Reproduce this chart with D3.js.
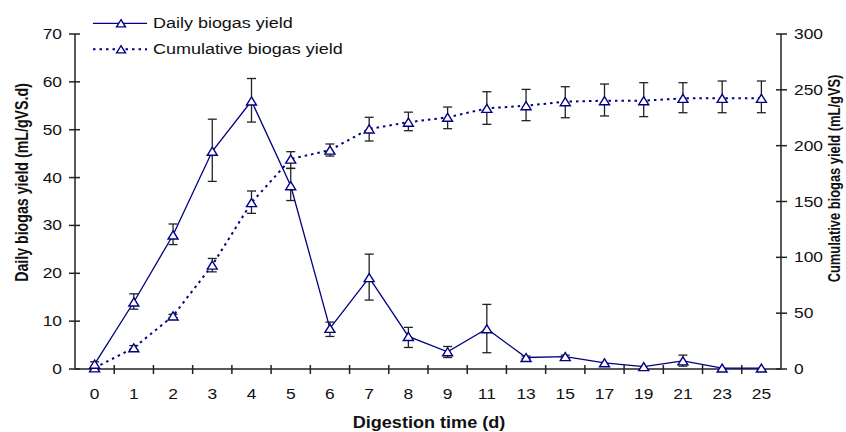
<!DOCTYPE html>
<html>
<head>
<meta charset="utf-8">
<script src="https://cdn.jsdelivr.net/npm/d3@7"></script>
<style>
  body { margin: 0; background: #fff; }
  svg { display: block; font-family: "Liberation Sans", Arial, sans-serif; }
</style>
</head>
<body>
<script>
var width = 846,
    height = 432;

// digestion days (categorical axis)
const days = ["0", "1", "2", "3", "4", "5", "6", "7", "8", "9", "11", "13", "15", "17", "19", "21", "23", "25"];

// daily biogas yield (mL/gVS.d) with error bar lows/highs
const daily = [1, 14, 28, 45.5, 56, 38.3, 8.5, 19.1, 6.8, 3.6, 8.4, 2.4, 2.6, 1.3, 0.5, 1.7, 0.2, 0.2];
const dailyLow = [0.5, 12.5, 26, 39.2, 51.6, 35.2, 6.8, 14.4, 4.5, 2.4, 3.4, 2.1, 2.3, 1.1, 0.3, 0.6, 0.1, 0.1];
const dailyHigh = [1.5, 15.7, 30.3, 52.2, 60.7, 41.9, 9.8, 24, 8.7, 4.7, 13.5, 2.7, 2.9, 1.5, 0.7, 2.9, 0.3, 0.3];

// cumulative biogas yield (mL/gVS) with error bar lows/highs
const cumulative = [1, 19, 47.5, 93, 149, 188, 196, 215, 221, 225.4, 233.4, 235.8, 239.4, 240.3, 240.3, 242.4, 242.4, 242.4];
const cumLow = [0, 17, 46, 87, 139.4, 179.7, 190.7, 204.2, 213.4, 215.2, 219.1, 222.4, 225, 226.6, 226, 229.5, 229.5, 229.5];
const cumHigh = [2, 21, 49, 99, 159.4, 194.6, 201.5, 225.4, 230, 234.6, 248.3, 250.4, 252.8, 255.2, 256.4, 256.4, 257.9, 257.9];

const leftTicks = [0, 10, 20, 30, 40, 50, 60, 70];
const rightTicks = [0, 50, 100, 150, 200, 250, 300];

const margin = { left: 75, right: 65, top: 34, bottom: 63 };
const navy = "#000080";
const ink = "#222";
const stretch = 1.2; // the original picture is a bit wider than tall

const svg = d3.select("body").append("svg")
    .attr("width", width)
    .attr("height", height);

const x = d3.scaleBand()
    .domain(days)
    .range([margin.left, width - margin.right]);

const yL = d3.scaleLinear().domain([0, 70]).range([height - margin.bottom, margin.top]);
const yR = d3.scaleLinear().domain([0, 300]).range([height - margin.bottom, margin.top]);

const cx = (d) => x(d) + x.bandwidth() / 2;

// text helper: horizontally stretched label
const label = (sel, px, py, txt, opts) => {
    opts = opts || {};
    return sel.append("text")
        .attr("transform", "translate(" + px + "," + py + ") scale(" + (opts.sx || stretch) + ",1)" + (opts.rot ? " rotate(" + opts.rot + ")" : ""))
        .attr("text-anchor", opts.anchor || "middle")
        .attr("font-size", opts.size || 14.5)
        .attr("font-weight", opts.bold ? "bold" : null)
        .attr("fill", "#111")
        .text(txt);
};

// axes
const axisG = svg.append("g").attr("class", "axes");

// x axis line + cross ticks at band edges
const x0 = margin.left, x1 = width - margin.right, yBase = yL(0);
axisG.append("line").attr("x1", x0).attr("x2", x1).attr("y1", yBase).attr("y2", yBase)
    .attr("stroke", ink).attr("stroke-width", 1.5);
axisG.selectAll(".xtick")
    .data(days.slice(1))
    .enter().append("line")
    .attr("x1", d => x(d)).attr("x2", d => x(d))
    .attr("y1", yBase - 4).attr("y2", yBase + 5)
    .attr("stroke", ink).attr("stroke-width", 1.5);
days.forEach(d => label(axisG, cx(d), yBase + 30, d));

// left axis
axisG.append("line").attr("x1", x0).attr("x2", x0).attr("y1", yL(0)).attr("y2", yL(70))
    .attr("stroke", ink).attr("stroke-width", 1.5);
axisG.selectAll(".ltick")
    .data(leftTicks)
    .enter().append("line")
    .attr("x1", x0 - 6).attr("x2", x0 + 5)
    .attr("y1", d => yL(d)).attr("y2", d => yL(d))
    .attr("stroke", ink).attr("stroke-width", 1.5);
leftTicks.forEach(d => label(axisG, x0 - 13, yL(d) + 5, d, { anchor: "end" }));

// right axis
axisG.append("line").attr("x1", x1).attr("x2", x1).attr("y1", yR(0)).attr("y2", yR(300))
    .attr("stroke", ink).attr("stroke-width", 1.5);
axisG.selectAll(".rtick")
    .data(rightTicks)
    .enter().append("line")
    .attr("x1", x1 - 5).attr("x2", x1 + 6)
    .attr("y1", d => yR(d)).attr("y2", d => yR(d))
    .attr("stroke", ink).attr("stroke-width", 1.5);
rightTicks.forEach(d => label(axisG, x1 + 13, yR(d) + 5, d, { anchor: "start" }));

// axis titles
label(svg, (x0 + x1) / 2 + 1, 428, "Digestion time (d)", { size: 16, bold: true, sx: 1.13 });
label(svg, 28, 182.5, "Daily biogas yield (mL/gVS.d)", { size: 14.2, bold: true, sx: 1.25, rot: -90 });
label(svg, 839.5, 178.5, "Cumulative biogas yield (mL/gVS)", { size: 12.9, bold: true, sx: 1.25, rot: -90 });

// lines
const lineDaily = d3.line().x((d, i) => cx(days[i])).y(d => yL(d));
const lineCum = d3.line().x((d, i) => cx(days[i])).y(d => yR(d));

svg.append("path").datum(cumulative)
    .attr("d", lineCum)
    .attr("fill", "none")
    .attr("stroke", navy)
    .attr("stroke-width", 2)
    .attr("stroke-dasharray", "2.5,4");

svg.append("path").datum(daily)
    .attr("d", lineDaily)
    .attr("fill", "none")
    .attr("stroke", navy)
    .attr("stroke-width", 1.3);

// error bars
const drawErrors = (lo, hi, y, cls) => {
    const g = svg.append("g").attr("class", cls);
    days.forEach(function (d, i) {
        const px = cx(d);
        if (Math.abs(y(hi[i]) - y(lo[i])) < 2) return;
        g.append("line").attr("x1", px).attr("x2", px)
            .attr("y1", y(lo[i])).attr("y2", y(hi[i]))
            .attr("stroke", ink).attr("stroke-width", 1.3);
        [lo[i], hi[i]].forEach(function (v) {
            g.append("line").attr("x1", px - 4.5).attr("x2", px + 4.5)
                .attr("y1", y(v)).attr("y2", y(v))
                .attr("stroke", ink).attr("stroke-width", 1.3);
        });
    });
};
drawErrors(cumLow, cumHigh, yR, "err-cum");
drawErrors(dailyLow, dailyHigh, yL, "err-daily");

// markers: open triangle, a little wider than tall
const triShape = {
    draw: function (context, size) {
        const w = Math.sqrt(size) * 0.72, h = Math.sqrt(size) * 0.58;
        context.moveTo(0, -h);
        context.lineTo(w, h);
        context.lineTo(-w, h);
        context.closePath();
    }
};
const tri = d3.symbol().type(triShape).size(48);
const triSmall = d3.symbol().type(triShape).size(38);

svg.append("g").selectAll("path")
    .data(cumulative)
    .enter().append("path")
    .attr("d", tri)
    .attr("transform", (d, i) => "translate(" + cx(days[i]) + "," + yR(d) + ")")
    .attr("fill", "#fff").attr("stroke", navy).attr("stroke-width", 1.4);
svg.append("g").selectAll("path")
    .data(daily)
    .enter().append("path")
    .attr("d", tri)
    .attr("transform", (d, i) => "translate(" + cx(days[i]) + "," + yL(d) + ")")
    .attr("fill", "#fff").attr("stroke", navy).attr("stroke-width", 1.4);

// legend
const legend = svg.append("g").attr("class", "legend");
const legendItems = [
    { label: "Daily biogas yield", dash: null, width: 1.3, y: 23.3 },
    { label: "Cumulative biogas yield", dash: "2.5,4", width: 2, y: 49.3 }
];
legendItems.forEach(function (it) {
    legend.append("line")
        .attr("x1", 93).attr("x2", 147).attr("y1", it.y).attr("y2", it.y)
        .attr("stroke", navy).attr("stroke-width", it.width)
        .attr("stroke-dasharray", it.dash);
    legend.append("path")
        .attr("d", triSmall)
        .attr("transform", "translate(121," + it.y + ")")
        .attr("fill", "#fff").attr("stroke", navy).attr("stroke-width", 1.4);
    label(legend, 153, it.y + 4.2, it.label, { anchor: "start", size: 15.5, sx: 1.16 });
});
</script>
</body>
</html>
